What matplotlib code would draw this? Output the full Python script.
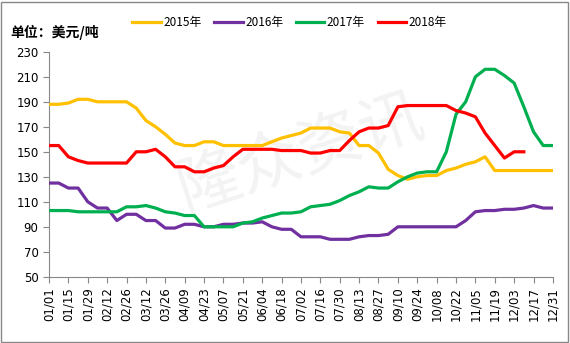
import numpy as np
import matplotlib
matplotlib.use('Agg')
import matplotlib.pyplot as plt

plt.rcParams['font.family'] = ['Noto Sans CJK SC', 'DejaVu Sans']

# 周数据（53周）
y2015 = [188, 188, 189, 192, 192, 190, 190, 190, 190, 185, 175, 170, 164, 157, 155, 155, 158, 158,
         155, 155, 155, 155, 155, 158, 161, 163, 165, 169, 169, 169, 166, 165, 155, 155, 149, 136,
         131, 128, 130, 131, 131, 135, 137, 140, 142, 146, 135, 135, 135, 135, 135, 135, 135]
y2016 = [125, 125, 121, 121, 110, 105, 105, 95, 100, 100, 95, 95, 89, 89, 92, 92, 90, 90,
         92, 92, 93, 93, 94, 90, 88, 88, 82, 82, 82, 80, 80, 80, 82, 83, 83, 84,
         90, 90, 90, 90, 90, 90, 90, 95, 102, 103, 103, 104, 104, 105, 107, 105, 105]
y2017 = [103, 103, 103, 102, 102, 102, 102, 102, 106, 106, 107, 105, 102, 101, 99, 99, 90, 90,
         90, 90, 93, 94, 97, 99, 101, 101, 102, 106, 107, 108, 111, 115, 118, 122, 121, 121,
         126, 130, 133, 134, 134, 150, 180, 190, 210, 216, 216, 211, 205, 186, 166, 155, 155]
y2018 = [155, 155, 146, 143, 141, 141, 141, 141, 141, 150, 150, 152, 146, 138, 138, 134, 134, 137,
         139, 146, 152, 152, 152, 152, 151, 151, 151, 149, 149, 151, 151, 159, 166, 169, 169, 171,
         186, 187, 187, 187, 187, 187, 183, 181, 178, 165, 155, 145, 150, 150, None, None, None]

tick_labels = ['01/01', '01/15', '01/29', '02/12', '02/26', '03/12', '03/26', '04/09', '04/23',
               '05/07', '05/21', '06/04', '06/18', '07/02', '07/16', '07/30', '08/13', '08/27',
               '09/10', '09/24', '10/08', '10/22', '11/05', '11/19', '12/03', '12/17', '12/31']

series = [('2015年', y2015, '#FFC000'),
          ('2016年', y2016, '#7030A0'),
          ('2017年', y2017, '#00B050'),
          ('2018年', y2018, '#FF0000')]

fig = plt.figure(figsize=(5.7, 3.43), dpi=100)
ax = fig.add_axes([0.086, 0.193, 0.884, 0.656])

# 水印
ax.text(0.5, 0.55, '隆众资讯', transform=ax.transAxes, fontsize=46, color='#f3f3f3',
        rotation=18, ha='center', va='center', zorder=0)

weeks = np.arange(53)
for name, vals, c in series:
    v = np.array([np.nan if x is None else x for x in vals], dtype=float)
    ax.plot(weeks, v, color=c, lw=2.3, label=name, zorder=3)

ax.set_xlim(0, 52)
ax.set_ylim(50, 230)
ax.set_yticks(np.arange(50, 231, 20))
ax.set_xticks(np.arange(0, 53, 2))
ax.set_xticklabels(tick_labels, rotation=90, family='DejaVu Sans')
ax.tick_params(axis='both', labelsize=8.5, color='#888888', length=4, direction='out')
for lab in ax.get_yticklabels():
    lab.set_family('DejaVu Sans')
for s in ['top', 'right']:
    ax.spines[s].set_visible(False)
for s in ['left', 'bottom']:
    ax.spines[s].set_color('#888888')

fig.text(0.018, 0.905, '单位：美元/吨', fontsize=10, fontweight='bold', va='center')
fig.legend(loc='center', bbox_to_anchor=(0.508, 0.935), ncol=4, frameon=False,
           fontsize=8.5, handlelength=2.4, handletextpad=0.2, columnspacing=1.1)

# 外边框
fig.patches.append(plt.Rectangle((0.002, 0.004), 0.994, 0.99, transform=fig.transFigure,
                                 fill=False, edgecolor='#888888', lw=1))

fig.savefig('out.png', dpi=100)
